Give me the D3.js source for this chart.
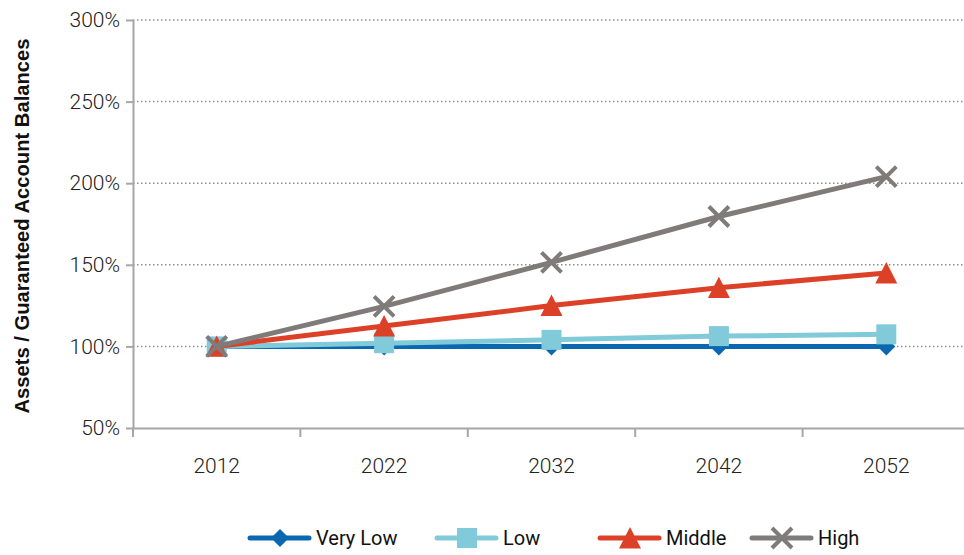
<!DOCTYPE html>
<html>
<head>
<meta charset="utf-8">
<script src="https://cdn.jsdelivr.net/npm/d3@7"></script>
<style>
  html, body { margin: 0; padding: 0; background: #fff; }
  svg { display: block; }
  text { font-family: Roboto, sans-serif; }
</style>
</head>
<body>
<svg id="chart" width="964" height="555"></svg>
<script>
// Projected ratio of assets to guaranteed account balances (%)
const years = ["2012", "2022", "2032", "2042", "2052"];
const veryLow = [100, 100, 100, 100, 100];
const low = [100, 102, 104, 106.3, 107.4];
const middle = [100, 112.5, 125, 136, 145];
const high = [100, 124.5, 151.5, 179.6, 204];
const yTicks = [50, 100, 150, 200, 250, 300];
const seriesNames = ["Very Low", "Low", "Middle", "High"];

const series = [
  { name: seriesNames[0], values: veryLow, color: "#0a68b0", marker: "diamond" },
  { name: seriesNames[1], values: low, color: "#80cad9", marker: "square" },
  { name: seriesNames[2], values: middle, color: "#dc4128", marker: "triangle" },
  { name: seriesNames[3], values: high, color: "#807b7b", marker: "cross" }
];

const svg = d3.select("#chart");
const margin = { left: 133, top: 20, right: -6, bottom: 127 };
const W = 964, H = 555;

const x = d3.scaleBand().domain(years).range([margin.left, W - margin.right]);
const y = d3.scaleLinear().domain([50, 300]).range([H - margin.bottom, margin.top]);

const grid = "#a6a6a6";

// dotted gridlines
svg.append("g")
  .selectAll("line")
  .data(yTicks.filter(d => d !== 50))
  .join("line")
  .attr("x1", margin.left).attr("x2", W - margin.right)
  .attr("y1", d => y(d)).attr("y2", d => y(d))
  .attr("stroke", "#8c8c8c")
  .attr("stroke-width", 1.5)
  .attr("stroke-dasharray", "1.5,2.5");

// y axis
const yAxis = svg.append("g")
  .attr("transform", `translate(${margin.left},0)`)
  .call(d3.axisLeft(y).tickValues(yTicks).tickFormat(d => d + "%").tickSize(7).tickSizeOuter(0));
yAxis.select(".domain").attr("stroke", grid).attr("stroke-width", 2);
yAxis.selectAll(".tick line").attr("stroke", grid).attr("stroke-width", 2);
yAxis.selectAll(".tick text")
  .attr("x", -13)
  .attr("fill", "#222")
  .style("font-size", "21px")
  .style("font-weight", "300");

// x axis
const xAxis = svg.append("g")
  .attr("transform", `translate(0,${y(50)})`)
  .call(d3.axisBottom(x).tickSize(0).tickSizeOuter(0));
xAxis.select(".domain").attr("stroke", grid).attr("stroke-width", 2);
xAxis.selectAll(".tick text")
  .attr("y", 30)
  .attr("fill", "#222")
  .style("font-size", "21px")
  .style("font-weight", "300");
// category boundary ticks
svg.append("g")
  .selectAll("line")
  .data(years)
  .join("line")
  .attr("x1", d => x(d)).attr("x2", d => x(d))
  .attr("y1", y(50)).attr("y2", y(50) + 9)
  .attr("stroke", grid).attr("stroke-width", 2);

// y axis title
svg.append("text")
  .attr("transform", `translate(29,${(y(50) + y(300)) / 2 + 2}) rotate(-90)`)
  .attr("text-anchor", "middle")
  .attr("textLength", 375)
  .attr("lengthAdjust", "spacingAndGlyphs")
  .style("font-size", "20px")
  .style("font-weight", "bold")
  .style("font-family", "'Liberation Sans', Arial, sans-serif")
  .attr("fill", "#111")
  .text("Assets / Guaranteed Account Balances");

function drawMarker(g, type, color, cx, cy) {
  if (type === "diamond") {
    const s = 9;
    g.append("path")
      .attr("d", `M${cx},${cy - s}L${cx + s},${cy}L${cx},${cy + s}L${cx - s},${cy}Z`)
      .attr("fill", color);
  } else if (type === "square") {
    const s = 10;
    g.append("rect")
      .attr("x", cx - s).attr("y", cy - s).attr("width", 2 * s).attr("height", 2 * s)
      .attr("fill", color);
  } else if (type === "triangle") {
    const s = 11;
    g.append("path")
      .attr("d", `M${cx},${cy - s}L${cx + s},${cy + s * 0.95}L${cx - s},${cy + s * 0.95}Z`)
      .attr("fill", color);
  } else if (type === "cross") {
    const s = 10;
    g.append("path")
      .attr("d", `M${cx - s},${cy - s}L${cx + s},${cy + s}M${cx - s},${cy + s}L${cx + s},${cy - s}`)
      .attr("stroke", color).attr("stroke-width", 4).attr("fill", "none");
  }
}

const line = d3.line()
  .x((d, i) => x(years[i]) + x.bandwidth() / 2)
  .y(d => y(d));

series.forEach(s => {
  const g = svg.append("g");
  g.append("path")
    .datum(s.values)
    .attr("d", line)
    .attr("fill", "none")
    .attr("stroke", s.color)
    .attr("stroke-width", 5);
  s.values.forEach((v, i) => {
    drawMarker(g, s.marker, s.color, x(years[i]) + x.bandwidth() / 2, y(v));
  });
});

// legend
const legendX = [250, 437, 600, 752];
const legendY = 538;
series.forEach((s, i) => {
  const g = svg.append("g");
  const x0 = legendX[i];
  g.append("line")
    .attr("x1", x0).attr("x2", x0 + 59)
    .attr("y1", legendY).attr("y2", legendY)
    .attr("stroke", s.color).attr("stroke-width", 5).attr("stroke-linecap", "round");
  drawMarker(g, s.marker, s.color, x0 + 30, legendY);
  g.append("text")
    .attr("x", x0 + 66).attr("y", legendY + 7)
    .attr("fill", "#111")
    .style("font-size", "20px")
    .text(s.name);
});
</script>
</body>
</html>
